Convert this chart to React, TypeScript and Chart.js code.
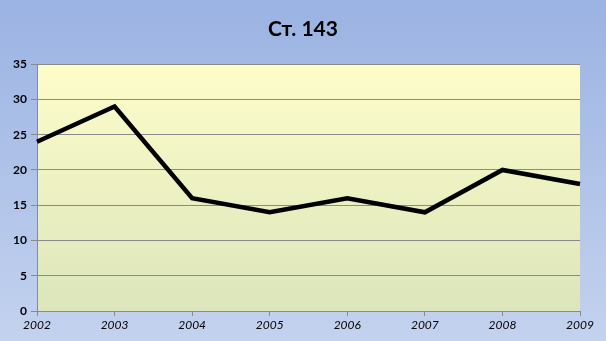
import React, { useEffect, useRef } from "react";
import { Chart, registerables } from "chart.js";

Chart.register(...registerables);

const titleText = "Ст. 143";
const years = ["2002", "2003", "2004", "2005", "2006", "2007", "2008", "2009"];
const values = [24, 29, 16, 14, 16, 14, 20, 18];
const yMin = 0;
const yMax = 35;
const yStep = 5;

const FONT = "Lato, 'Open Sans', sans-serif";

const bgPlugin = {
  id: "bgPlugin",
  beforeDraw(chart: any) {
    const { ctx, width, height, chartArea } = chart;
    ctx.save();
    const g = ctx.createLinearGradient(0, 0, 0, height);
    g.addColorStop(0, "#9bb3e3");
    g.addColorStop(1, "#c3d2ee");
    ctx.fillStyle = g;
    ctx.fillRect(0, 0, width, height);
    const pg = ctx.createLinearGradient(0, chartArea.top, 0, chartArea.bottom);
    pg.addColorStop(0, "#fefdca");
    pg.addColorStop(1, "#dce5bb");
    ctx.fillStyle = pg;
    ctx.fillRect(chartArea.left, chartArea.top, chartArea.right - chartArea.left, chartArea.bottom - chartArea.top);
    ctx.restore();
  },
};

export default function App() {
  const ref = useRef<HTMLCanvasElement>(null);
  useEffect(() => {
    if (!ref.current) return;
    const chart = new Chart(ref.current, {
      type: "line",
      data: {
        labels: years,
        datasets: [
          {
            data: values,
            borderColor: "#000000",
            borderWidth: 4.5,
            pointRadius: 0,
            tension: 0,
            fill: false,
          },
        ],
      },
      options: {
        animation: false,
        responsive: false,
        layout: { padding: 0 },
        plugins: {
          legend: { display: false },
          tooltip: { enabled: false },
          title: {
            display: true,
            text: titleText,
            color: "#000000",
            font: { family: FONT, size: 21, weight: "bold" },
            padding: { top: 17, bottom: 22 },
          },
        },
        scales: {
          x: {
            offset: false,
            grid: {
              display: true,
              drawOnChartArea: false,
              drawTicks: true,
              tickLength: 5,
              color: "#8a8a8a",
            },
            border: { color: "#8a8a8a", width: 1 },
            ticks: {
              color: "#000000",
              font: { family: FONT, size: 12, style: "italic" },
              padding: 2,
              maxRotation: 0,
              autoSkip: false,
            },
            afterFit(scale: any) {
              scale.height = 30;
              scale.paddingRight = 26;
              scale.paddingLeft = 0;
            },
          },
          y: {
            min: yMin,
            max: yMax,
            grid: {
              color: "#8a8a8a",
              tickLength: 6,
            },
            border: { color: "#8a8a8a", width: 1 },
            ticks: {
              stepSize: yStep,
              color: "#000000",
              font: { family: FONT, size: 12, weight: "bold" },
              padding: 4,
            },
            afterFit(scale: any) {
              scale.width = 37;
            },
          },
        },
      },
      plugins: [bgPlugin],
    });
    return () => chart.destroy();
  }, []);
  return (
    <div style={{ position: "fixed", left: 0, top: 0, width: 606, height: 341 }}>
      <canvas ref={ref} width={606} height={341} style={{ display: "block" }} />
    </div>
  );
}
